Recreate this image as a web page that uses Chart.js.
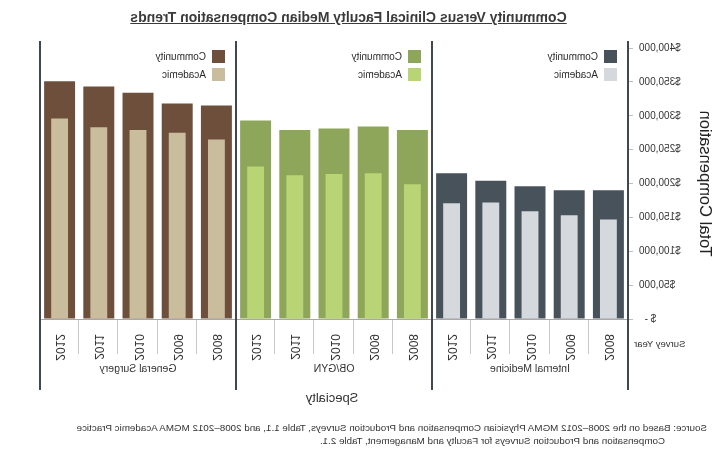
<!DOCTYPE html>
<html>
<head>
<meta charset="utf-8">
<script src="https://cdn.jsdelivr.net/npm/chart.js@4"></script>
<style>
html, body { margin: 0; padding: 0; background: #fff; }
#lienzo { position: relative; width: 717px; height: 455px; transform: scaleX(-1); font-family: "Liberation Sans", Arial, sans-serif; color: #333; }
#grafico { position: absolute; left: 0; top: 0; }
#titulo { position: absolute; left: 0; top: 9px; width: 737px; text-align: center; font-weight: bold; font-size: 14px; line-height: 16px; text-decoration: underline; color: #3a3a3a; }
.fuente { position: absolute; font-size: 9.8px; line-height: 13px; white-space: nowrap; color: #333; }
</style>
</head>
<body>
<div id="lienzo">
  <canvas id="grafico" width="717" height="455"></canvas>
  <div id="titulo">Community Versus Clinical Faculty Median Compensation Trends</div>
  <div class="fuente" style="left:10px; top:421px;">Source: Based on the 2008–2012 MGMA Physician Compensation and Production Surveys, Table 1.1, and 2008–2012 MGMA Academic Practice</div>
  <div class="fuente" style="left:52px; top:434px;">Compensation and Production Surveys for Faculty and Management, Table 2.1.</div>
</div>
<script>
window.addEventListener("DOMContentLoaded", main);

const FUENTE = '"Liberation Sans", Arial, sans-serif';

const ESPECIALIDADES = ["Internal Medicine", "OB/GYN", "General Surgery"];
const ANIOS = ["2008", "2009", "2010", "2011", "2012"];
const SERIES = ["Community", "Academic"];

// medianas, 2008 -> 2012
const internaComunidad = [190000, 190000, 196000, 204000, 215000];
const internaAcademico = [147000, 153000, 159000, 172000, 171000];
const obgynComunidad = [279000, 284000, 281000, 279000, 293000];
const obgynAcademico = [199000, 215000, 214000, 212000, 225000];
const cirugiaComunidad = [315000, 318000, 334000, 343000, 351000];
const cirugiaAcademico = [265000, 275000, 279000, 283000, 296000];

const TICKS_Y = [0, 50000, 100000, 150000, 200000, 250000, 300000, 350000, 400000];

const COLORES_COMUNIDAD = ["#48525b", "#8ea65a", "#6d4f3b"];
const COLORES_ACADEMICO = ["#d5d9dd", "#b8d474", "#c9bd9e"];

let etiquetas = [];

const extras = {
    id: "extras",
    afterDraw(chart){
        const c = chart.ctx;
        const x = chart.scales.x;
        const y = chart.scales.y;
        const area = chart.chartArea;
        const base = Math.round(y.getPixelForValue(0));
        c.save();

        // linea base
        c.strokeStyle = "#a8a8a8";
        c.lineWidth = 1;
        c.beginPath();
        c.moveTo(area.left, base + 0.5);
        c.lineTo(area.right, base + 0.5);
        c.stroke();

        // separadores de anios
        c.strokeStyle = "#c8c8c8";
        for(let i = 1; i < etiquetas.length; i++){
            if(i % ANIOS.length == 0) continue;
            let px = Math.round(x.getPixelForValue(i - 0.5)) + 0.5;
            c.beginPath();
            c.moveTo(px, base + 1);
            c.lineTo(px, base + 35);
            c.stroke();
        }

        // lineas de grupo
        c.strokeStyle = "#3f484f";
        c.lineWidth = 2;
        for(let g = 0; g <= ESPECIALIDADES.length; g++){
            let px = Math.round(x.getPixelForValue(g * ANIOS.length - 0.5));
            c.beginPath();
            c.moveTo(px, 41);
            c.lineTo(px, 390);
            c.stroke();
        }

        // nombres de especialidad y leyendas
        c.textBaseline = "middle";
        ESPECIALIDADES.forEach((nombre, g) => {
            let ini = x.getPixelForValue(g * ANIOS.length - 0.5);
            let fin = x.getPixelForValue((g + 1) * ANIOS.length - 0.5);
            c.font = "10.5px " + FUENTE;
            c.textAlign = "center";
            c.fillStyle = "#333";
            c.fillText(nombre, (ini + fin) / 2, 369);

            SERIES.forEach((serie, k) => {
                let top = 50 + k * 18;
                c.fillStyle = k == 0 ? COLORES_COMUNIDAD[g] : COLORES_ACADEMICO[g];
                c.fillRect(ini + 11, top, 13, 13);
                c.fillStyle = "#2b2b2b";
                c.font = "10px " + FUENTE;
                c.textAlign = "left";
                c.fillText(serie, ini + 30, top + 7);
            });
        });

        c.fillStyle = "#333";
        c.font = "13px " + FUENTE;
        c.textAlign = "center";
        c.fillText("Specialty", 385, 398);

        c.font = "9.5px " + FUENTE;
        c.textAlign = "right";
        c.fillText("Survey Year", 83, 344);

        c.restore();
    }
};

function main(){

    let comunidad = [];
    let academico = [];
    let fondoComunidad = [];
    let fondoAcademico = [];
    const grupos = [
        [internaComunidad, internaAcademico],
        [obgynComunidad, obgynAcademico],
        [cirugiaComunidad, cirugiaAcademico]
    ];
    grupos.forEach((grupo, g) => {
        ANIOS.forEach((anio, j) => {
            etiquetas.push(anio);
            comunidad.push(grupo[0][j]);
            academico.push(grupo[1][j]);
            fondoComunidad.push(COLORES_COMUNIDAD[g]);
            fondoAcademico.push(COLORES_ACADEMICO[g]);
        });
    });

    Chart.defaults.font.family = FUENTE;

    let ctx = document.getElementById("grafico")?.getContext("2d");
    if(ctx){
        let chart = new Chart(ctx, {
            type: "bar",
            data: {
                labels: etiquetas,
                datasets: [
                    {label: SERIES[1], data: academico, backgroundColor: fondoAcademico,
                     barPercentage: 0.43, categoryPercentage: 1, grouped: false, order: 0},
                    {label: SERIES[0], data: comunidad, backgroundColor: fondoComunidad,
                     barPercentage: 0.79, categoryPercentage: 1, grouped: false, order: 1}
                ]
            },
            options: {
                responsive: false,
                animation: false,
                layout: {padding: {top: 48, right: 40, left: 0, bottom: 0}},
                plugins: {legend: {display: false}, tooltip: {enabled: false}},
                scales: {
                    x: {
                        grid: {display: false},
                        border: {display: false},
                        ticks: {autoSkip: false, maxRotation: 90, minRotation: 90, padding: 7,
                                color: "#333", font: {size: 12}},
                        afterFit: s => { s.height = 136; }
                    },
                    y: {
                        min: 0,
                        max: 400000,
                        afterBuildTicks: s => { s.ticks = TICKS_Y.map(v => ({value: v})); },
                        grid: {drawOnChartArea: false, tickLength: 5, color: "#bdbdbd"},
                        border: {display: false},
                        ticks: {padding: 6, color: "#333", font: {size: 10},
                                callback: v => v === 0 ? "$ -  " : "$" + v.toLocaleString("en-US")},
                        title: {display: true, text: "Total Compensation", color: "#222",
                                font: {size: 16.5}, padding: {top: 3, bottom: 0}},
                        afterFit: s => { s.width = 89; }
                    }
                }
            },
            plugins: [extras]
        });
    }

}
</script>
</body>
</html>
